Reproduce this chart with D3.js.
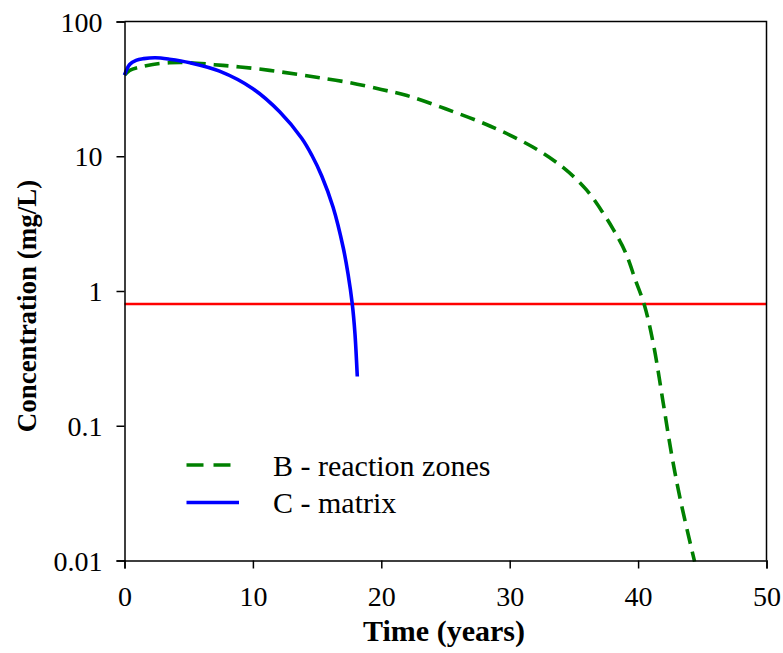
<!DOCTYPE html>
<html>
<head>
<meta charset="utf-8">
<script src="https://cdn.jsdelivr.net/npm/d3@7"></script>
<style>
  body { margin: 0; background: #fff; }
  svg text { font-family: "Liberation Serif", "DejaVu Serif", "Times New Roman", Times, serif !important; }
</style>
</head>
<body>
<svg id="chart" width="783" height="653"></svg>
<script>
// ---- data ----
const seriesNames = ["B - reaction zones", "C - matrix"];
const bTime = [0, 0.4, 1.2, 2.2, 3.5, 5, 7, 9, 11.3, 13.5, 15.2, 17.5, 20, 22, 25, 28.5, 31.8, 34.2, 36, 37.3, 38.1, 39.0, 39.8, 40.5, 41.2, 41.96, 42.6, 43.3, 44.4];
const bConc = [40, 43.4, 45.9, 48, 49.4, 49.5, 47.8, 46, 43.4, 40.5, 38.3, 35.2, 31.3, 28.2, 22.5, 16.7, 11.7, 8.2, 5.6, 3.76, 2.83, 1.95, 1.2, 0.78, 0.40, 0.147, 0.062, 0.028, 0.0098];
const cTime = [0, 0.4, 0.9, 1.5, 2.4, 3.5, 5.1, 7.4, 10, 12.1, 13.8, 14.6, 15.36, 16.24, 17.04, 17.41, 17.74, 17.95, 18.13];
const cConc = [40, 48, 51.5, 53, 53.8, 52.5, 49.4, 42.8, 31.7, 21.3, 13.6, 10.13, 7.14, 4.2, 2.085, 1.337, 0.8, 0.48, 0.232];
const thresholdValue = 0.8;
const xTicks = [0, 10, 20, 30, 40, 50];
const yTicks = [100, 10, 1, 0.1, 0.01];
const yTickLabels = ["100", "10", "1", "0.1", "0.01"];
const xTitle = "Time (years)";
const yTitle = "Concentration (mg/L)";

// ---- layout ----
const FONT = '"Liberation Serif", "DejaVu Serif", "Times New Roman", Times, serif';
const svg = d3.select("#chart");
const L = 124.5, R = 766.5, T = 21.5, B = 560.5;
const x = d3.scaleLinear().domain([0, 50]).range([L, R]);
const y = d3.scaleLog().domain([0.01, 100]).range([B, T]);

// threshold line
svg.append("line")
  .attr("x1", x(0)).attr("x2", x(50))
  .attr("y1", y(thresholdValue)).attr("y2", y(thresholdValue))
  .attr("stroke", "#ff0000").attr("stroke-width", 2.6);

const line = d3.line().curve(d3.curveCatmullRom.alpha(0.5));

// B series
svg.append("path")
  .attr("d", line(bTime.map((t, i) => [x(t), y(bConc[i])])))
  .attr("fill", "none").attr("stroke", "#008000").attr("stroke-width", 3.6)
  .attr("stroke-dasharray", "15,8");

// C series
svg.append("path")
  .attr("d", line(cTime.map((t, i) => [x(t), y(cConc[i])])))
  .attr("fill", "none").attr("stroke", "#0000ff").attr("stroke-width", 3.6);

// frame
svg.append("path")
  .attr("d", `M${L},${T}H${R}V${B}`)
  .attr("fill", "none").attr("stroke", "#000").attr("stroke-width", 1.5);

// axes
const xAxis = d3.axisBottom(x).tickValues(xTicks).tickSize(8).tickPadding(16).tickFormat(d3.format("d"));
const gx = svg.append("g").attr("transform", `translate(0,${B})`).call(xAxis);
const yAxis = d3.axisLeft(y).tickValues(yTicks).tickSize(8).tickPadding(14)
  .tickFormat((d, i) => yTickLabels[i]);
const gy = svg.append("g").attr("transform", `translate(${L},0)`).call(yAxis);
[gx, gy].forEach(g => {
  g.attr("font-family", FONT);
  g.select(".domain").attr("stroke-width", 1.5);
  g.selectAll(".tick line").attr("stroke-width", 1.5);
  g.selectAll(".tick text").attr("font-size", 28).style("font-family", FONT).attr("fill", "#000");
});
gx.selectAll(".tick text").attr("dy", "0.75em");
gy.selectAll(".tick text").attr("dy", "0.34em");

// titles
svg.append("text").attr("x", 444).attr("y", 641).style("font-family", FONT)
  .attr("text-anchor", "middle").attr("font-size", 30).attr("font-weight", "bold").text(xTitle);
svg.append("text").attr("transform", `translate(36,306) rotate(-90)`).style("font-family", FONT)
  .attr("text-anchor", "middle").attr("font-size", 27).attr("font-weight", "bold").text(yTitle);

// legend
const legend = svg.append("g");
const items = [
  { name: seriesNames[0], color: "#008000", dash: "17,10", y: 465, x2: 232 },
  { name: seriesNames[1], color: "#0000ff", dash: null, y: 502.5, x2: 239 }
];
items.forEach(it => {
  legend.append("line").attr("x1", 186.5).attr("x2", it.x2).attr("y1", it.y).attr("y2", it.y)
    .attr("stroke", it.color).attr("stroke-width", 3.6).attr("stroke-dasharray", it.dash);
  legend.append("text").attr("x", 273).attr("y", it.y + 10.5).style("font-family", FONT)
    .attr("font-size", 30).attr("fill", "#000").text(it.name);
});
</script>
</body>
</html>
